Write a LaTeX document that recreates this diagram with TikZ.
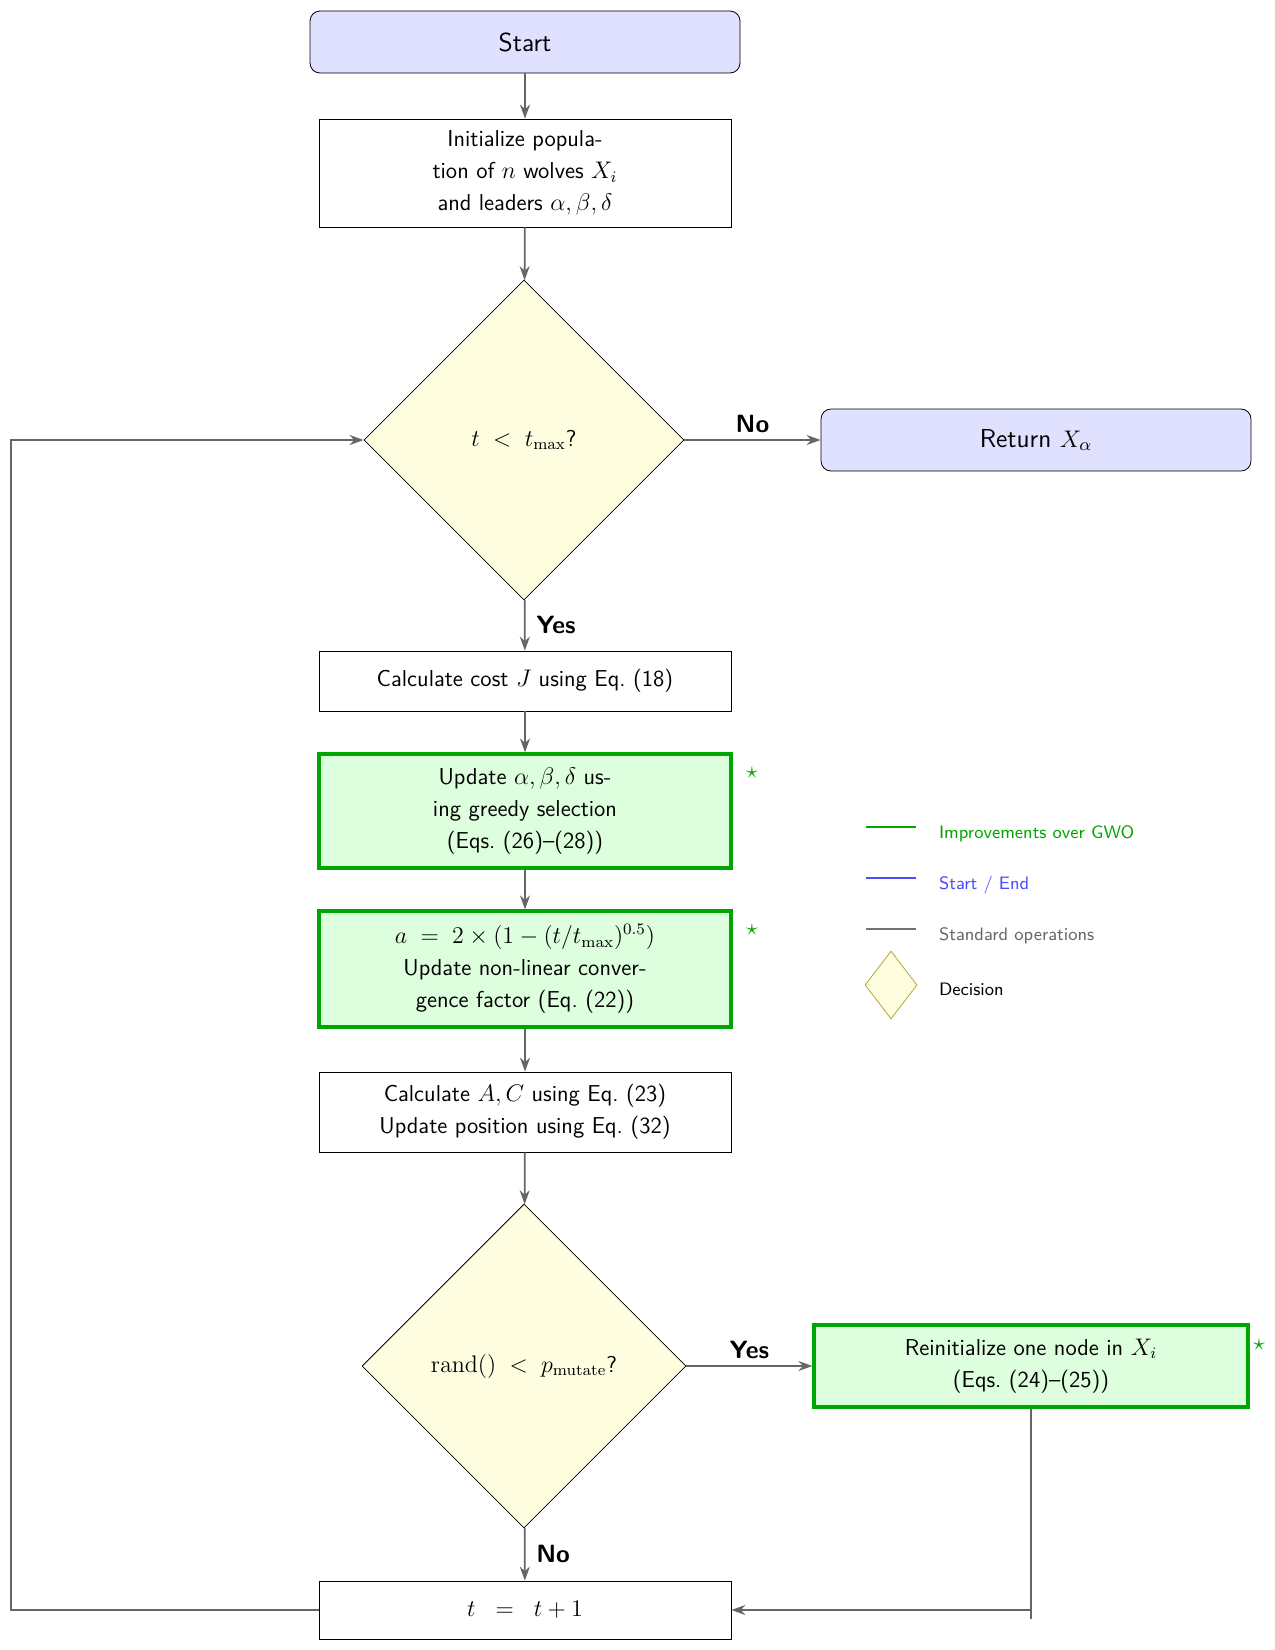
\documentclass[tikz,border=0pt]{standalone}
\usetikzlibrary{shapes.geometric,arrows.meta}
\renewcommand{\familydefault}{\sfdefault}
\begin{document}
\begin{tikzpicture}[x=0.5pt,y=-0.5pt,
  arr/.style={draw=black!60,line width=0.9pt,-{Stealth[length=7pt,width=5pt]}},
  ln/.style={draw=black!60,line width=0.9pt},
  term/.style={draw=black,fill=blue!12,rounded corners=5pt,minimum width=215pt,minimum height=31pt,font=\fontsize{13}{15}\selectfont},
  proc/.style={draw=black,fill=white,minimum width=206pt,align=center,font=\fontsize{11.5}{16}\selectfont,inner sep=2pt},
  impr/.style={draw=green!65!black,line width=1.6pt,fill=green!13,minimum width=206pt,align=center,font=\fontsize{11.5}{16}\selectfont,inner sep=2pt},
  dec/.style={diamond,draw=black,fill=yellow!12,aspect=1,inner sep=0pt,font=\fontsize{11.5}{14}\selectfont},
  lab/.style={font=\bfseries\fontsize{12.5}{14}\selectfont},
  star/.style={text=green!65!black,font=\large}]
\useasboundingbox (0,0) rectangle (1275,1650);
\node[term] (start) at (525,42) {Start};
\node[proc,minimum height=54pt] (init) at (525,173) {Initialize popula-\\tion of $n$ wolves $X_i$\\and leaders $\alpha,\beta,\delta$};
\node[dec,minimum width=160pt,minimum height=160pt] (d1) at (524,440) {$t\;<\;t_{\max}$?};
\node[term] (ret) at (1036,440) {Return $X_\alpha$};
\node[proc,minimum height=30pt] (cost) at (525,681) {Calculate cost $J$ using Eq.\ (18)};
\node[impr,minimum height=57pt] (upd) at (525,811) {Update $\alpha,\beta,\delta$ us-\\ing greedy selection\\(Eqs.\ (26)--(28))};
\node[impr,minimum height=58pt] (a) at (525,969) {$a\;=\;2\times(1-(t/t_{\max})^{0.5})$\\Update non-linear conver-\\gence factor (Eq.\ (22))};
\node[proc,minimum height=40pt] (AC) at (525,1112) {Calculate $A,C$ using Eq.\ (23)\\Update position using Eq.\ (32)};
\node[dec,minimum width=162pt,minimum height=162pt] (d2) at (524,1366) {$\mathrm{rand}()\;<\;p_{\mathrm{mutate}}$?};
\node[impr,minimum height=41pt,minimum width=217pt] (re) at (1031,1366) {Reinitialize one node in $X_i$\\(Eqs.\ (24)--(25))};
\node[proc,minimum height=29pt] (inc) at (525,1610) {$t\;\;=\;\;t+1$};
\node[star] (s1) at (752,773) {$\star$};
\node[star] (s2) at (752,930) {$\star$};
\node[star] (s3) at (1259,1345) {$\star$};
\draw[arr] (start) -- (init);
\draw[arr] (init) -- (d1);
\draw[arr] (d1) -- node[lab,above]{No} (ret);
\draw[arr] (d1) -- node[lab,right,xshift=2pt]{Yes} (cost);
\draw[arr] (cost) -- (upd);
\draw[arr] (upd) -- (a);
\draw[arr] (a) -- (AC);
\draw[arr] (AC) -- (d2);
\draw[arr] (d2) -- node[lab,above]{Yes} (re);
\draw[arr] (d2) -- node[lab,right,xshift=2pt]{No} (inc);
\coordinate (rc) at (1031,1610);
\coordinate (rb) at (1031,1619);
\draw[ln] (re.south) -- (rb);
\draw[arr] (rc) -- (inc.east);
\draw[arr] (inc.west) -- (11,1610) -- (11,440) -- (d1.west);
% legend
\coordinate (l1a) at (866,827); \coordinate (l1b) at (916,827);
\coordinate (l2a) at (866,878); \coordinate (l2b) at (916,878);
\coordinate (l3a) at (866,929); \coordinate (l3b) at (916,929);
\draw[green!65!black,line width=1.2pt] (l1a) -- (l1b);
\draw[blue!70,line width=1.2pt] (l2a) -- (l2b);
\draw[black!55,line width=1.2pt] (l3a) -- (l3b);
\node[anchor=west,text=green!65!black,font=\fontsize{9}{10}\selectfont] (t1) at (932,834) {Improvements over GWO};
\node[anchor=west,text=blue!70,font=\fontsize{9}{10}\selectfont] (t2) at (932,885) {Start / End};
\node[anchor=west,text=black!60,font=\fontsize{9}{10}\selectfont] (t3) at (932,936) {Standard operations};
\node[diamond,draw=olive!70,fill=yellow!12,minimum width=26pt,minimum height=34pt,inner sep=0pt] (ld) at (891,985) {};
\node[anchor=west,font=\fontsize{9}{10}\selectfont] (t4) at (932,989) {Decision};
\end{tikzpicture}
\end{document}
